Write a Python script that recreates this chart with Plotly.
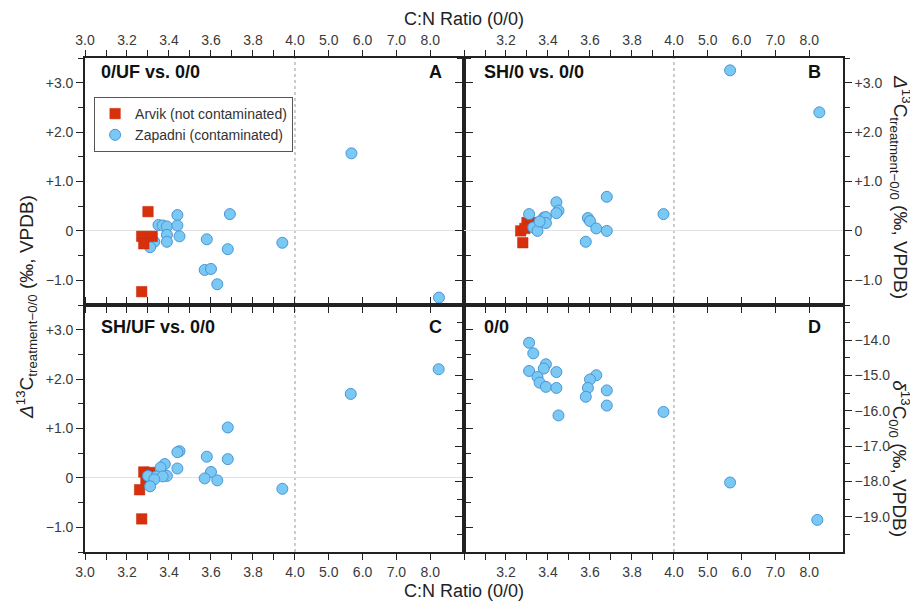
import plotly.graph_objects as go

# ---------------- data (C:N ratio, isotope values) ----------------
# Panel A: 0/UF vs 0/0
arv_A_cn = [3.30, 3.27, 3.32, 3.28, 3.27]
arv_A_d = [0.39, -0.11, -0.11, -0.26, -1.23]
zap_A_cn = [3.44, 3.69, 3.35, 3.37, 3.39, 3.44, 3.39, 3.45, 3.39, 3.33, 3.31,
            3.58, 3.68, 3.94, 3.57, 3.60, 3.63, 5.67, 8.26]
zap_A_d = [0.32, 0.34, 0.12, 0.11, 0.09, 0.11, -0.08, -0.11, -0.22, -0.22, -0.33,
           -0.17, -0.37, -0.24, -0.79, -0.77, -1.08, 1.57, -1.35]

# Panel B: SH/0 vs 0/0
arv_B_cn = [3.27, 3.28, 3.30, 3.32, 3.29]
arv_B_d = [0.00, -0.24, 0.17, 0.17, 0.05]
zap_B_cn = [3.44, 3.45, 3.44, 3.31, 3.38, 3.39, 3.39, 3.33, 3.35, 3.36, 3.68,
            3.59, 3.60, 3.63, 3.68, 3.58, 3.95, 5.66, 8.30]
zap_B_d = [0.58, 0.41, 0.36, 0.34, 0.27, 0.28, 0.16, 0.07, 0.00, 0.19, 0.69,
           0.26, 0.20, 0.05, 0.00, -0.22, 0.34, 3.25, 2.40]

# Panel C: SH/UF vs 0/0
arv_C_cn = [3.28, 3.31, 3.29, 3.26, 3.27]
arv_C_d = [0.12, 0.11, -0.03, -0.24, -0.83]
zap_C_cn = [3.68, 3.45, 3.44, 3.58, 3.68, 3.38, 3.36, 3.44, 3.60, 3.30, 3.34,
            3.39, 3.37, 3.33, 3.57, 3.63, 3.31, 3.94, 5.65, 8.25]
zap_C_d = [1.02, 0.54, 0.52, 0.43, 0.38, 0.28, 0.21, 0.19, 0.12, 0.04, 0.03,
           0.04, 0.03, -0.03, -0.01, -0.05, -0.17, -0.22, 1.70, 2.20]

# Panel D: 0/0 delta13C
zap_D_cn = [3.31, 3.33, 3.31, 3.39, 3.38, 3.44, 3.35, 3.36, 3.39, 3.44, 3.45,
            3.63, 3.60, 3.59, 3.58, 3.68, 3.68, 3.95, 5.66, 8.24]
zap_D_d = [-14.07, -14.37, -14.87, -14.68, -14.80, -14.90, -15.04, -15.20, -15.32,
           -15.35, -16.13, -14.99, -15.11, -15.35, -15.60, -15.42, -15.85, -16.03,
           -18.03, -19.09]

x_major = [3.0, 3.2, 3.4, 3.6, 3.8, 4.0, 5.0, 6.0, 7.0, 8.0]
x_major_text = ["3.0", "3.2", "3.4", "3.6", "3.8", "4.0", "5.0", "6.0", "7.0", "8.0"]
x_minor = [3.1, 3.3, 3.5, 3.7, 3.9]

y_delta_major = [3.0, 2.0, 1.0, 0.0, -1.0]
y_delta_text = ["+3.0", "+2.0", "+1.0", "0", "\u22121.0"]
y_delta_minor = [3.5, 2.5, 1.5, 0.5, -0.5, -1.5]

y_d13_major = [-14.0, -15.0, -16.0, -17.0, -18.0, -19.0]
y_d13_text = ["\u221214.0", "\u221215.0", "\u221216.0", "\u221217.0", "\u221218.0", "\u221219.0"]
y_d13_minor = [-13.5, -14.5, -15.5, -16.5, -17.5, -18.5, -19.5]

# ---------------- broken C:N scale ----------------
K = 0.161  # compression factor above C:N = 4.0


def cn(v):
    return v if v <= 4.0 else 4.0 + (v - 4.0) * K


def cnl(vals):
    return [cn(v) for v in vals]


X_RANGE = [3.0, cn(9.0)]

RED = "#d8300c"
RED_EDGE = "#c02a0a"
BLUE = "#79c9f4"
BLUE_EDGE = "#4a95d6"
FONT = "Liberation Sans, Arial, sans-serif"
TICK_COL = "#3a3a3a"

fig = go.Figure()


def add_panel(xa, ya, arv_x, arv_y, zap_x, zap_y, legend=False, red_on_top=False):
    traces = []
    if arv_x is not None:
        traces.append(go.Scatter(
            x=cnl(arv_x), y=arv_y, mode="markers", xaxis=xa, yaxis=ya,
            name="Arvik (not contaminated)", showlegend=legend, legendrank=1,
            marker=dict(symbol="square", size=10.5, color=RED,
                        line=dict(color=RED_EDGE, width=0.5))))
    traces.append(go.Scatter(
        x=cnl(zap_x), y=zap_y, mode="markers", xaxis=xa, yaxis=ya,
        name="Zapadni (contaminated)", showlegend=legend, legendrank=2,
        marker=dict(symbol="circle", size=11, color=BLUE,
                    line=dict(color=BLUE_EDGE, width=1))))
    if red_on_top:
        traces = traces[::-1]
    for t in traces:
        fig.add_trace(t)


add_panel("x", "y", arv_A_cn, arv_A_d, zap_A_cn, zap_A_d, legend=True, red_on_top=True)
add_panel("x2", "y2", arv_B_cn, arv_B_d, zap_B_cn, zap_B_d)
add_panel("x3", "y3", arv_C_cn, arv_C_d, zap_C_cn, zap_C_d)
add_panel("x4", "y4", None, None, zap_D_cn, zap_D_d)


def xaxis(domain, anchor, side, first_label=True):
    vals = cnl(x_major) if first_label else cnl(x_major[1:])
    txt = x_major_text if first_label else x_major_text[1:]
    minors = cnl(x_minor) + ([] if first_label else [3.0])
    return dict(domain=domain, anchor=anchor, side=side, range=X_RANGE,
                tickmode="array", tickvals=vals, ticktext=txt,
                ticks="outside", ticklen=6, tickwidth=1.2, tickcolor="#222",
                minor=dict(tickmode="array", tickvals=minors, ticks="outside",
                           ticklen=6, tickwidth=1.2, tickcolor="#222"),
                showline=True, linecolor="#222", linewidth=1.6, mirror="allticks",
                showgrid=False, zeroline=False, automargin=False,
                tickfont=dict(family=FONT, size=14, color=TICK_COL))


def yaxis(domain, anchor, side, rng, major, text, minor, zero=True):
    return dict(domain=domain, anchor=anchor, side=side, range=rng,
                tickmode="array", tickvals=major, ticktext=text,
                ticks="outside", ticklen=7, tickwidth=1.2, tickcolor="#222",
                minor=dict(tickmode="array", tickvals=minor, ticks="outside",
                           ticklen=5, tickwidth=1.2, tickcolor="#222"),
                showline=True, linecolor="#222", linewidth=1.6, mirror="allticks",
                showgrid=False, zeroline=zero, zerolinecolor="#e2e2e2", zerolinewidth=1,
                automargin=False,
                tickfont=dict(family=FONT, size=14, color=TICK_COL))


# the page body adds an 8 px offset, so the figure is 8 px smaller
fig.update_layout(
    width=910, height=596,
    margin=dict(l=77, r=75, t=50, b=52, autoexpand=False),
    paper_bgcolor="white", plot_bgcolor="white",
    font=dict(family=FONT, color="#222"),
    xaxis=xaxis([0, 0.5], "y", "top"),
    xaxis2=xaxis([0.5, 1], "y2", "top", first_label=False),
    xaxis3=xaxis([0, 0.5], "y3", "bottom"),
    xaxis4=xaxis([0.5, 1], "y4", "bottom", first_label=False),
    yaxis=yaxis([0.5, 1], "x", "left", [-1.5, 3.5], y_delta_major, y_delta_text, y_delta_minor),
    yaxis2=yaxis([0.5, 1], "x2", "right", [-1.5, 3.5], y_delta_major, y_delta_text, y_delta_minor),
    yaxis3=yaxis([0, 0.5], "x3", "left", [-1.5, 3.5], y_delta_major, y_delta_text, y_delta_minor),
    yaxis4=yaxis([0, 0.5], "x4", "right", [-20, -13], y_d13_major, y_d13_text, y_d13_minor, zero=False),
    showlegend=True,
    legend=dict(x=0.012, y=0.921, xanchor="left", yanchor="top",
                bgcolor="white", bordercolor="#555", borderwidth=1,
                font=dict(family=FONT, size=14, color="#333"),
                itemwidth=30, tracegroupgap=0, traceorder="normal"),
)

# dotted line at C:N = 4.0 in every panel
for xa, ya in [("x", "y"), ("x2", "y2"), ("x3", "y3"), ("x4", "y4")]:
    fig.add_shape(type="line", xref=xa, yref=ya + " domain", x0=4.0, x1=4.0, y0=0, y1=1,
                  line=dict(color="#9a9a9a", width=1, dash="dot"), layer="below")

# panel labels
labels = [
    ("x", "y", "0/UF vs. 0/0", "A", 0.037, 0.944),
    ("x2", "y2", "SH/0 vs. 0/0", "B", 0.047, 0.944),
    ("x3", "y3", "SH/UF vs. 0/0", "C", 0.037, 0.912),
    ("x4", "y4", "0/0", "D", 0.047, 0.912),
]
for xa, ya, title, letter, lx, ly in labels:
    fig.add_annotation(xref=xa + " domain", yref=ya + " domain", x=lx, y=ly,
                       text="<b>" + title + "</b>", showarrow=False,
                       xanchor="left", yanchor="middle",
                       font=dict(family=FONT, size=18, color="#111"))
    fig.add_annotation(xref=xa + " domain", yref=ya + " domain", x=0.947, y=ly,
                       text="<b>" + letter + "</b>", showarrow=False,
                       xanchor="right", yanchor="middle",
                       font=dict(family=FONT, size=18, color="#111"))

# axis titles
TITLE_FONT = dict(family=FONT, size=19, color="#222")
SIDE_FONT = dict(family=FONT, size=19, color="#222")
fig.add_annotation(xref="paper", yref="paper", x=0.5, y=1.079, text="C:N Ratio (0/0)",
                   showarrow=False, xanchor="center", yanchor="middle",
                   font=dict(family=FONT, size=18, color="#222"))
fig.add_annotation(xref="paper", yref="paper", x=0.5, y=-0.079, text="C:N Ratio (0/0)",
                   showarrow=False, xanchor="center", yanchor="middle",
                   font=dict(family=FONT, size=18, color="#222"))
delta_title = "<i>\u0394</i><sup>13</sup>C<sub>treatment\u22120/0</sub> (\u2030, VPDB)"
fig.add_annotation(xref="paper", yref="paper", x=-0.0765, y=0.496, text=delta_title,
                   textangle=-90, showarrow=False, xanchor="center", yanchor="middle",
                   font=TITLE_FONT)
fig.add_annotation(xref="paper", yref="paper", x=1.075, y=0.739, text=delta_title,
                   textangle=90, showarrow=False, xanchor="center", yanchor="middle",
                   font=SIDE_FONT)
fig.add_annotation(xref="paper", yref="paper", x=1.075, y=0.188,
                   text="<i>\u03b4</i><sup>13</sup>C<sub>0/0</sub> (\u2030, VPDB)",
                   textangle=90, showarrow=False, xanchor="center", yanchor="middle",
                   font=SIDE_FONT)

fig.write_html("out.html")
